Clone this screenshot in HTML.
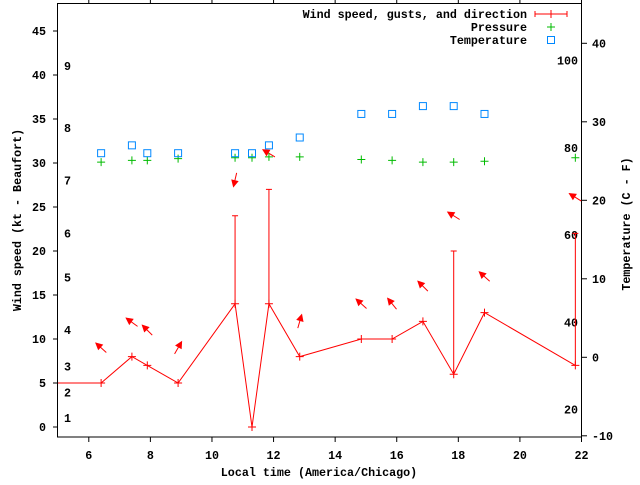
<!DOCTYPE html>
<html><head><meta charset="utf-8"><style>
html,body{margin:0;padding:0;background:#fff;}
svg text{font-family:"Liberation Mono",monospace;font-size:11.7px;font-weight:bold;fill:#000;}
</style></head><body>
<svg id="chart" width="640" height="480" viewBox="0 0 640 480" xmlns="http://www.w3.org/2000/svg">
<defs><clipPath id="plotclip"><rect x="58" y="3" width="524" height="434"/></clipPath></defs>
<rect x="57.5" y="3.5" width="524" height="433.5" fill="none" stroke="#000" stroke-width="1"/>
<g id="axes"></g>
<g id="series" clip-path="url(#plotclip)"></g>
<g id="legend"></g>
<text x="319" y="476" text-anchor="middle">Local time (America/Chicago)</text>
<text x="21" y="220" text-anchor="middle" transform="rotate(-90 21 220)">Wind speed (kt - Beaufort)</text>
<text x="630" y="224" text-anchor="middle" transform="rotate(-90 630 224)">Temperature (C - F)</text>
</svg>
<script>
const windTimes=[4.4,6.4,7.4,7.9,8.9,10.75,11.3,11.85,12.85,14.85,15.85,16.85,17.85,18.85,21.8];
const windSpeed=[5,5,8,7,5,14,0,14,8,10,10,12,6,13,7];
const gustTimes=[10.75,11.85,17.85,21.8];
const gustSpeed=[24,27,20,22];
const gustBase=[14,14,6,7];
const arrowTimes=[6.4,7.4,7.9,8.9,10.75,11.85,12.85,14.85,15.85,16.85,17.85,18.85,21.8];
const arrowLevel=[9,11.9,11,9,28.1,31.1,12,14,14,16,24,17.1,26.1];
const arrowBearing=[312,306,315,30,193,301,16,312,321,315,302,312,302];
const tempTimes=[6.4,7.4,7.9,8.9,10.75,11.3,11.85,12.85,14.85,15.85,16.85,17.85,18.85];
const tempC=[26,27,26,26,26,26,27,28,31,31,32,32,31];
const presTimes=[6.4,7.4,7.9,8.9,10.75,11.3,11.85,12.85,14.85,15.85,16.85,17.85,18.85,21.8];
const pressure=[30.1,30.3,30.3,30.5,30.6,30.6,30.7,30.7,30.4,30.3,30.1,30.1,30.2,30.6];
const xTicks=[6,8,10,12,14,16,18,20,22];
const yTicks=[0,5,10,15,20,25,30,35,40,45];
const tTicks=[-10,0,10,20,30,40];
const fLabels=[20,40,60,80,100];
const bftLabels=["1","2","3","4","5","6","7","8","9"];
const bftLevels=[1,3.9,6.9,11,17,22,28,34,41];

const NS="http://www.w3.org/2000/svg";
const X0=58,X1=581.5,Y0=437,Y1=3;
function xs(t){return X0+(t-5)*(X1-X0)/17;}
function ys(v){return 427-v*8.8;}
function yt(c){return 357.3-c*7.85;}
function mk(tag,attrs,parent,text){const e=document.createElementNS(NS,tag);for(const k in attrs)e.setAttribute(k,attrs[k]);if(text!==undefined)e.textContent=text;parent.appendChild(e);return e;}
const axes=document.getElementById('axes'),ser=document.getElementById('series'),leg=document.getElementById('legend');

xTicks.forEach(t=>{const x=xs(t);
 let l=mk('line',{x1:x,x2:x,y1:437,y2:442,stroke:'#000'},axes);
 
 
 let l2=mk('line',{x1:x,x2:x,y1:3,y2:-2,stroke:'#000'},axes);
 
 
 let tx=mk('text',{x:x,y:459,'text-anchor':'middle'},axes,String(t));
 
 });
yTicks.forEach(v=>{const y=ys(v);
 let l=mk('line',{x1:53,x2:58,y1:y,y2:y,stroke:'#000'},axes);
 
 
 let tx=mk('text',{x:46,y:y+4,'text-anchor':'end'},axes,String(v));
 
 });
tTicks.forEach(v=>{const y=yt(v);
 let l=mk('line',{x1:581.5,x2:587,y1:y,y2:y,stroke:'#000'},axes);
 
 
 let tx=mk('text',{x:592,y:y+4,'text-anchor':'start'},axes,String(v));
 
 });
fLabels.forEach(f=>{const y=yt((f-32)*5/9);
 let tx=mk('text',{x:578,y:y+4,'text-anchor':'end'},axes,String(f));
 
 });
bftLabels.forEach((s,i)=>{
 let tx=mk('text',{x:64,y:ys(bftLevels[i])+4,'text-anchor':'start'},axes,s);
 
 });

// wind line
let pts=windTimes.map((t,i)=>xs(t)+','+ys(windSpeed[i])).join(' ');
let pl=mk('polyline',{points:pts,fill:'none',stroke:'#f00','stroke-width':1},ser);


windTimes.forEach((t,i)=>{const x=xs(t),y=ys(windSpeed[i]);
 let p=mk('path',{d:`M${x-4},${y}H${x+4}M${x},${y-4}V${y+4}`,stroke:'#f00',fill:'none'},ser);
 
 });
gustTimes.forEach((t,i)=>{const x=xs(t),y1=ys(gustBase[i]),y2=ys(gustSpeed[i]);
 let p=mk('path',{d:`M${x},${y1}V${y2}M${x-3},${y2}H${x+3}`,stroke:'#f00',fill:'none'},ser);
 
 });
arrowTimes.forEach((t,i)=>{const cx=xs(t),cy=ys(arrowLevel[i]);const a=arrowBearing[i]*Math.PI/180;
 const dx=Math.sin(a),dy=-Math.cos(a),L=7;
 const hx=cx+dx*L,hy=cy+dy*L,tx=cx-dx*L,ty=cy-dy*L;
 const px=-dy,py=dx;const bx=hx-dx*6,by=hy-dy*6;
 const g=mk('g',{},ser);
 
 
 mk('line',{x1:tx,y1:ty,x2:hx,y2:hy,stroke:'#f00'},g);
 mk('polygon',{points:`${hx},${hy} ${bx+px*3},${by+py*3} ${bx-px*3},${by-py*3}`,fill:'#f00',stroke:'#f00'},g);});
presTimes.forEach((t,i)=>{const x=xs(t),y=ys(pressure[i]);
 let p=mk('path',{d:`M${x-4},${y}H${x+4}M${x},${y-4}V${y+4}`,stroke:'#0b0',fill:'none'},ser);
 
 });
tempTimes.forEach((t,i)=>{const x=xs(t),y=yt(tempC[i]);
 let r=mk('rect',{x:x-3.5,y:y-3.5,width:7,height:7,fill:'none',stroke:'#08f'},ser);
 
 });

// legend
const legNames=["Wind speed, gusts, and direction","Pressure","Temperature"];
const legY=[14,27,40];
legNames.forEach((s,i)=>{let tx=mk('text',{x:527,y:legY[i]+4,'text-anchor':'end'},leg,s);
 
 });
let w=mk('path',{d:`M535,${legY[0]}H567M535,${legY[0]-3}V${legY[0]+3}M567,${legY[0]-3}V${legY[0]+3}M551,${legY[0]-4}V${legY[0]+4}`,stroke:'#f00',fill:'none'},leg);


let pp=mk('path',{d:`M547,${legY[1]}H555M551,${legY[1]-4}V${legY[1]+4}`,stroke:'#0b0',fill:'none'},leg);


let tr=mk('rect',{x:547.5,y:legY[2]-3.5,width:7,height:7,fill:'none',stroke:'#08f'},leg);


</script>
</body></html>
